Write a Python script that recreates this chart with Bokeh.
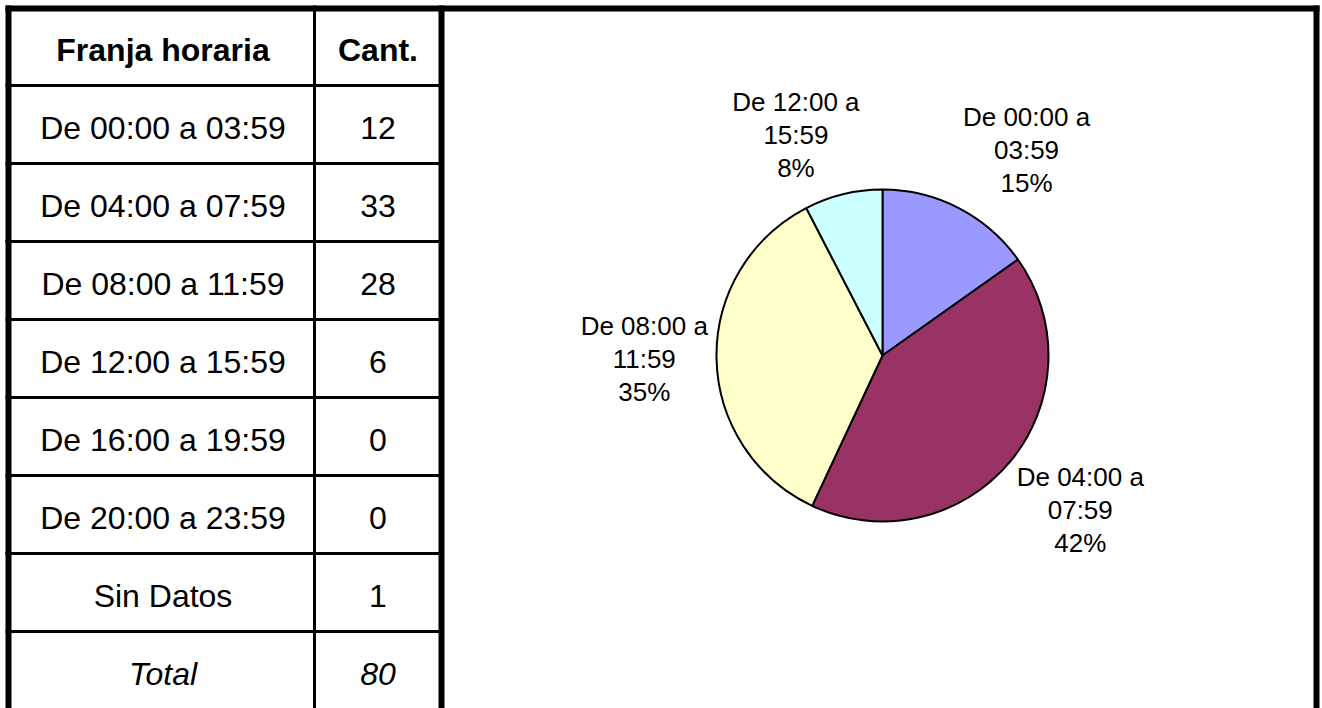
import math
from bokeh.plotting import figure
from bokeh.models import Range1d, ColumnDataSource
from bokeh.core.properties import value
from bokeh.embed import file_html
from bokeh.resources import INLINE

# ---------------- data ----------------
header = ["Franja horaria", "Cant."]
categories = ["De 00:00 a 03:59", "De 04:00 a 07:59", "De 08:00 a 11:59",
              "De 12:00 a 15:59", "De 16:00 a 19:59", "De 20:00 a 23:59",
              "Sin Datos"]
counts = [12, 33, 28, 6, 0, 0, 1]
total_label = "Total"
pie_categories = categories[:6]          # time ranges only (no "Sin Datos")
pie_counts = counts[:6]
pie_colors = ["#9999FF", "#993366", "#FFFFCC", "#CCFFFF", "#660066", "#FF8080"]

# ---------------- layout (screen pixels) ----------------
SCREEN_H = 708
W, H = 1322, 708
FONT = "Liberation Sans"
TABLE_FS = "32px"

def Y(py):
    return SCREEN_H - py

p = figure(width=W, height=H, output_backend="svg", toolbar_location=None,
           x_range=Range1d(0, W), y_range=Range1d(SCREEN_H - H, SCREEN_H),
           x_axis_location=None, y_axis_location=None, min_border=0,
           outline_line_color=None, background_fill_color="white",
           border_fill_color="white")
p.grid.visible = False

# table geometry
OUT_L, OUT_R = 5, 1319          # outer box edges
OUT_T = 5
THICK = 6
THIN = 3
col_div = 314                   # divider between table columns
tab_right = 441                 # thick divider between table and chart
header_bottom = 85
row_h = 78
n_rows = len(categories) + 1    # + total row
table_bottom = header_bottom + row_h * n_rows

# thick borders
p.quad(left=[OUT_L, OUT_L, tab_right - THICK / 2, OUT_R - THICK],
       right=[OUT_R, OUT_L + THICK, tab_right + THICK / 2, OUT_R],
       top=[Y(OUT_T), Y(OUT_T), Y(OUT_T), Y(OUT_T)],
       bottom=[Y(OUT_T + THICK), Y(table_bottom + 20), Y(table_bottom + 20), Y(table_bottom + 20)],
       fill_color="black", line_color=None)
# column divider
p.quad(left=[col_div - THIN / 2], right=[col_div + THIN / 2],
       top=[Y(OUT_T)], bottom=[Y(table_bottom + 20)], fill_color="black", line_color=None)
# row lines
row_lines = [header_bottom + row_h * k for k in range(n_rows)]
p.quad(left=[OUT_L] * len(row_lines), right=[tab_right] * len(row_lines),
       top=[Y(r - THIN / 2) for r in row_lines], bottom=[Y(r + THIN / 2) for r in row_lines],
       fill_color="black", line_color=None)

c1 = (OUT_L + THICK + col_div) / 2
c2 = (col_div + tab_right) / 2
TEXT_DY = 3

# header
hy = Y((OUT_T + THICK + header_bottom) / 2 + 1)
p.text(x=[c1, c2], y=[hy, hy], text=header, text_font=value(FONT), text_font_size=TABLE_FS,
       text_font_style="bold", text_align="center", text_baseline="middle", text_color="black")

# body rows
row_src = ColumnDataSource(dict(
    x1=[c1] * len(categories), x2=[c2] * len(categories),
    y=[Y(header_bottom + row_h * i + row_h / 2 + TEXT_DY) for i in range(len(categories))],
    cat=categories, cnt=[str(c) for c in counts]))
p.text(x="x1", y="y", text="cat", source=row_src, text_font=value(FONT), text_font_size=TABLE_FS,
       text_align="center", text_baseline="middle", text_color="black")
p.text(x="x2", y="y", text="cnt", source=row_src, text_font=value(FONT), text_font_size=TABLE_FS,
       text_align="center", text_baseline="middle", text_color="black")

# total row
ty = Y(header_bottom + row_h * len(categories) + row_h / 2 + TEXT_DY)
p.text(x=[c1, c2], y=[ty, ty], text=[total_label, str(sum(counts))], text_font=value(FONT),
       text_font_size=TABLE_FS, text_font_style="italic", text_align="center",
       text_baseline="middle", text_color="black")

# ---------------- pie ----------------
CX, CY, R = 882, 355, 166
vals = [v for v in pie_counts if v > 0]
labs = [c for c, v in zip(pie_categories, pie_counts) if v > 0]
cols = [c for c, v in zip(pie_colors, pie_counts) if v > 0]
tot = sum(vals)
starts, ends, lx, ly, ltext = [], [], [], [], []
cum = 0
LW, LH = 128, 86
LABEL_DY = -3
for v, lab in zip(vals, labs):
    a0 = 2 * math.pi * cum / tot
    a1 = 2 * math.pi * (cum + v) / tot
    starts.append(math.pi / 2 - a1)
    ends.append(math.pi / 2 - a0)
    mid = (a0 + a1) / 2
    ax = CX + 1.05 * R * math.sin(mid)
    ay = CY - 1.08 * R * math.cos(mid)
    fx = min(1, max(0, 0.5 - 1.5 * math.sin(mid)))
    fy = min(1, max(0, 0.5 + 1.5 * math.cos(mid)))
    lx.append(ax + (0.5 - fx) * LW)
    ly.append(Y(ay - (fy - 0.5) * LH + LABEL_DY))
    first, last = lab.rsplit(" ", 1)
    ltext.append(f"{first}\n{last}\n{round(100 * v / tot)}%")
    cum += v

pie_src = ColumnDataSource(dict(start=starts, end=ends, color=cols))
p.wedge(x=CX, y=Y(CY), radius=R, start_angle="start", end_angle="end", source=pie_src,
        fill_color="color", line_color="black", line_width=2)

p.text(x=lx, y=ly, text=ltext, text_font=value(FONT), text_font_size="26px",
       text_align="center", text_baseline="middle", text_line_height=1.1, text_color="black")

open("out.html", "w").write(file_html(p, INLINE))
